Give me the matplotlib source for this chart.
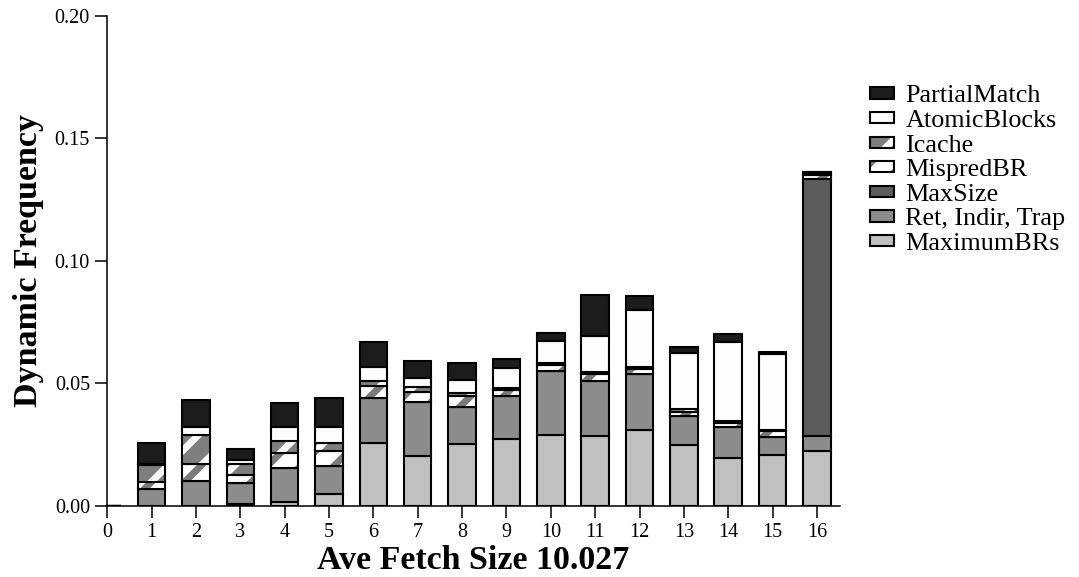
import matplotlib
matplotlib.use('Agg')
import matplotlib.pyplot as plt
from matplotlib.legend_handler import HandlerTuple

# fetch sizes 0..16
fetch_sizes = list(range(17))

# stacked from bottom to top
maximum_brs = [0, 0, 0, 0.0006, 0.0016, 0.0048, 0.0255, 0.0202, 0.0253, 0.0270,
               0.0287, 0.0284, 0.0310, 0.0249, 0.0194, 0.0205, 0.0223]
ret_indir_trap = [0, 0.0068, 0.0101, 0.0086, 0.0138, 0.0115, 0.0182, 0.0221, 0.0150,
                  0.0177, 0.0262, 0.0225, 0.0227, 0.0116, 0.0127, 0.0075, 0.0060]
max_size = [0, 0, 0, 0, 0, 0, 0, 0, 0, 0, 0, 0, 0, 0, 0, 0, 0.1050]
mispred_br = [0, 0.0030, 0.0070, 0.0034, 0.0061, 0.0060, 0.0050, 0.0041, 0.0045,
              0.0026, 0.0023, 0.0027, 0.0022, 0.0018, 0.0016, 0.0023, 0.0018]
icache = [0, 0.0066, 0.0116, 0.0044, 0.0048, 0.0033, 0.0023, 0.0018, 0.0010,
          0.0008, 0.0008, 0.0009, 0.0008, 0.0010, 0.0007, 0.0007, 0.0003]
atomic_blocks = [0, 0.0007, 0.0032, 0.0016, 0.0057, 0.0066, 0.0057, 0.0039, 0.0055,
                 0.0080, 0.0093, 0.0146, 0.0232, 0.0230, 0.0325, 0.0309, 0.0006]
partial_match = [0, 0.0084, 0.0112, 0.0045, 0.0098, 0.0116, 0.0101, 0.0068, 0.0068,
                 0.0039, 0.0033, 0.0168, 0.0055, 0.0023, 0.0030, 0.0009, 0.0003]

series = [
    ("MaximumBRs", maximum_brs, "#c0c0c0", None, None),
    ("Ret, Indir, Trap", ret_indir_trap, "#8c8c8c", None, None),
    ("MaxSize", max_size, "#5c5c5c", None, None),
    ("MispredBR", mispred_br, "#ffffff", "/", "#7a7a7a"),
    ("Icache", icache, "#7e7e7e", "/", "#ffffff"),
    ("AtomicBlocks", atomic_blocks, "#fdfdfd", None, None),
    ("PartialMatch", partial_match, "#1c1c1c", None, None),
]

plt.rcParams['font.family'] = ['Liberation Serif', 'DejaVu Serif']
plt.rcParams['hatch.linewidth'] = 5.0

fig = plt.figure(figsize=(10.79, 5.77), dpi=100)
ax = fig.add_axes([0.0994, 0.1239, 0.7785 - 0.0994, 0.9728 - 0.1239])

width = 0.62
bottom = [0.0] * len(fetch_sizes)
handles = []
labels = []
for name, vals, color, hatch, hcolor in series:
    # fill pass (hatch colour comes from edgecolor), then a black outline pass
    fill = ax.bar(fetch_sizes, vals, width, bottom=bottom, color=color,
                  hatch=hatch, edgecolor=hcolor if hcolor else color, linewidth=0)
    outline = ax.bar(fetch_sizes, vals, width, bottom=bottom, fill=False,
                     edgecolor='black', linewidth=1.5)
    handles.append((fill[0], outline[0]))
    labels.append(name)
    bottom = [b + v for b, v in zip(bottom, vals)]

ax.set_xlim(0, 16.52)
ax.set_ylim(0, 0.20)
ax.set_xticks(fetch_sizes)
ax.set_yticks([0.0, 0.05, 0.10, 0.15, 0.20])
ax.set_yticklabels(["0.00", "0.05", "0.10", "0.15", "0.20"])
ax.tick_params(axis='both', direction='out', length=8.5, width=1.1,
               labelsize=14.5, pad=4, color='black')

for side in ['top', 'right']:
    ax.spines[side].set_visible(False)
for side in ['left', 'bottom']:
    ax.spines[side].set_linewidth(1.1)

ax.set_xlabel("Ave Fetch Size 10.027", fontsize=24.5, fontweight='bold', labelpad=2)
ax.set_ylabel("Dynamic Frequency", fontsize=24.5, fontweight='bold', labelpad=8)

leg = fig.legend(handles[::-1], labels[::-1], loc='upper left',
                 bbox_to_anchor=(0.806, 0.852), frameon=False, fontsize=18.8,
                 handlelength=0.95, handleheight=0.28, handletextpad=0.42,
                 labelspacing=0.1, borderpad=0, borderaxespad=0,
                 handler_map={tuple: HandlerTuple(ndivide=1, pad=0)})

fig.savefig("out.png", dpi=100)
plt.close(fig)
